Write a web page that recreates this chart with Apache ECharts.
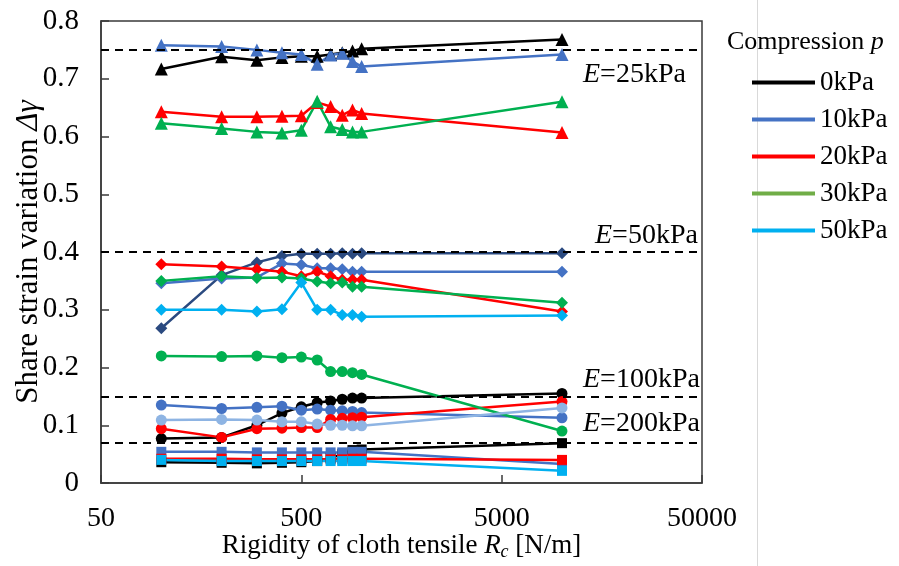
<!DOCTYPE html>
<html><head><meta charset="utf-8">
<script src="https://cdn.jsdelivr.net/npm/echarts@6/dist/echarts.min.js"></script>
<style>html,body{margin:0;padding:0;background:#fff}#c{width:899px;height:566px}</style>
</head><body><div id="c"></div>
<script>
// ---- data ----
const rigidity = [100, 200, 300, 400, 500, 600, 700, 800, 900, 1000, 10000];
const xTickLabels = [50, 500, 5000, 50000];
const refLines = [0.752, 0.4, 0.1495, 0.069];
const refLabels = ['25kPa', '50kPa', '100kPa', '200kPa'];
const legendNames = ['0kPa', '10kPa', '20kPa', '30kPa', '50kPa'];

// E = 25 kPa (triangles)
const e25_p0  = [0.717, 0.738, 0.732, 0.737, 0.739, 0.739, 0.742, 0.745, 0.748, 0.752, 0.768];
const e25_p10 = [0.758, 0.756, 0.750, 0.745, 0.742, 0.725, 0.741, 0.744, 0.730, 0.721, 0.742];
const e25_p20 = [0.643, 0.634, 0.634, 0.635, 0.636, 0.659, 0.652, 0.637, 0.646, 0.640, 0.607];
const e25_p30 = [0.623, 0.614, 0.608, 0.606, 0.611, 0.661, 0.617, 0.612, 0.608, 0.608, 0.660];
// E = 50 kPa (diamonds)
const e50_p0  = [0.268, 0.360, 0.382, 0.393, 0.397, 0.397, 0.397, 0.398, 0.397, 0.398, 0.398];
const e50_p10 = [0.346, 0.354, 0.356, 0.380, 0.378, 0.372, 0.372, 0.370, 0.366, 0.366, 0.366];
const e50_p20 = [0.379, 0.375, 0.370, 0.366, 0.358, 0.366, 0.358, 0.352, 0.352, 0.352, 0.297];
const e50_p30 = [0.350, 0.358, 0.355, 0.356, 0.354, 0.349, 0.346, 0.347, 0.340, 0.340, 0.312];
const e50_p50 = [0.300, 0.300, 0.297, 0.301, 0.347, 0.300, 0.300, 0.291, 0.291, 0.288, 0.290];
// E = 100 kPa (circles)
const e100_p0  = [0.077, 0.079, 0.100, 0.121, 0.132, 0.139, 0.142, 0.145, 0.147, 0.147, 0.155];
const e100_p10 = [0.135, 0.129, 0.131, 0.133, 0.126, 0.128, 0.126, 0.125, 0.124, 0.122, 0.113];
const e100_p20 = [0.094, 0.079, 0.094, 0.095, 0.096, 0.096, 0.110, 0.112, 0.113, 0.114, 0.141];
const e100_p30 = [0.220, 0.219, 0.220, 0.217, 0.218, 0.213, 0.193, 0.193, 0.191, 0.188, 0.090];
const e100_p50 = [0.109, 0.110, 0.109, 0.106, 0.106, 0.102, 0.100, 0.100, 0.099, 0.099, 0.130];
// E = 200 kPa (squares)
const e200_p0  = [0.036, 0.035, 0.034, 0.035, 0.036, 0.038, 0.043, 0.050, 0.057, 0.058, 0.069];
const e200_p10 = [0.054, 0.054, 0.053, 0.053, 0.053, 0.053, 0.053, 0.053, 0.054, 0.054, 0.033];
const e200_p20 = [0.042, 0.042, 0.041, 0.041, 0.041, 0.041, 0.041, 0.041, 0.042, 0.042, 0.040];
const e200_p50 = [0.040, 0.038, 0.038, 0.038, 0.038, 0.038, 0.038, 0.038, 0.038, 0.038, 0.021];

// ---- styles ----
const C = {black:'#000000', blue:'#4472C4', red:'#FF0000', green:'#00B050', cyan:'#00B0F0',
           navy:'#2B4A80', pale:'#8EB4E3', legGreen:'#70AD47'};
const FONT = "'Liberation Serif', 'Times New Roman', 'DejaVu Serif', serif";

function mk(name, vals, color, symbol, size) {
  return {
    name: name, type: 'line', data: rigidity.map((x, i) => [x, vals[i]]),
    symbol: symbol, symbolSize: size, color: color,
    lineStyle: {width: 2.5, color: color}, itemStyle: {color: color},
    z: 3, silent: true, animation: false
  };
}
const series = [
  mk('e25_0', e25_p0, C.black, 'triangle', 13),
  mk('e25_10', e25_p10, C.blue, 'triangle', 13),
  mk('e25_20', e25_p20, C.red, 'triangle', 13),
  mk('e25_30', e25_p30, C.green, 'triangle', 13),
  mk('e50_0', e50_p0, C.navy, 'diamond', 12),
  mk('e50_10', e50_p10, C.blue, 'diamond', 12),
  mk('e50_20', e50_p20, C.red, 'diamond', 12),
  mk('e50_30', e50_p30, C.green, 'diamond', 12),
  mk('e50_50', e50_p50, C.cyan, 'diamond', 12),
  mk('e100_0', e100_p0, C.black, 'circle', 11),
  mk('e100_10', e100_p10, C.blue, 'circle', 11),
  mk('e100_20', e100_p20, C.red, 'circle', 11),
  mk('e100_30', e100_p30, C.green, 'circle', 11),
  mk('e100_50', e100_p50, C.pale, 'circle', 11),
  mk('e200_0', e200_p0, C.black, 'rect', 10),
  mk('e200_10', e200_p10, C.blue, 'rect', 10),
  mk('e200_20', e200_p20, C.red, 'rect', 10),
  mk('e200_50', e200_p50, C.cyan, 'rect', 10)
];
// reference dashed lines
series.push({
  name: 'ref', type: 'line', data: [], silent: true,
  markLine: {
    symbol: 'none', silent: true, animation: false, label: {show: false},
    lineStyle: {color: '#000', type: [8, 6], width: 2},
    data: refLines.map(v => ({yAxis: v}))
  }
});
// legend entries
const legColors = [C.black, C.blue, C.red, C.legGreen, C.cyan];
legendNames.forEach((n, i) => series.push({name: n, type: 'line', data: [], color: legColors[i], lineStyle:{color: legColors[i]}, itemStyle:{color: legColors[i]}}));

// annotation texts
const annPos = [[583, 75], [595, 236], [583, 380], [583, 424]];
const txt = (s, it) => ({fontFamily: FONT, fontSize: s, fill: '#000', fontStyle: it ? 'italic' : 'normal'});
const graphics = [
  {type: 'line', shape: {x1: 757.5, y1: 0, x2: 757.5, y2: 566}, style: {stroke: '#d9d9d9', lineWidth: 1}, z: 0},
  {type: 'text', x: 727, y: 42, style: {text: '{n|Compression }{i|p}', verticalAlign: 'middle', rich: {n: txt(26, false), i: txt(26, true)}}, z: 10}
];
refLabels.forEach((t, i) => graphics.push({
  type: 'text', x: annPos[i][0], y: annPos[i][1],
  style: {text: '{i|E}{n|=' + t + '}', verticalAlign: 'middle', rich: {n: txt(28, false), i: txt(28, true)}},
  z: 10
}));

const chart = echarts.init(document.getElementById('c'), null, {renderer: 'canvas'});
chart.setOption({
  animation: false,
  backgroundColor: '#fff',
  grid: {left: 101, right: 197, top: 21, bottom: 83, containLabel: false, outerBoundsMode: 'none',
         show: true, borderColor: '#3a3a3a', borderWidth: 1.5},
  xAxis: {
    type: 'log', logBase: 10, min: 50, max: 50000,
    axisLine: {show: true, lineStyle: {color: '#3a3a3a', width: 1.5}},
    axisTick: {show: true, inside: true, length: 8, lineStyle: {color: '#3a3a3a', width: 1.5}, customValues: xTickLabels},
    axisLabel: {customValues: xTickLabels, fontFamily: FONT, fontSize: 28, color: '#000', margin: 22, showMinLabel: true, showMaxLabel: true,
      formatter: v => String(Math.round(v))},
    splitLine: {show: false}, minorTick: {show: false},
    name: '{n|Rigidity of cloth tensile }{i|R}{s|c}{n| [N/m]}', nameLocation: 'middle', nameGap: 48, nameMoveOverlap: false,
    nameTextStyle: {rich: {
      n: {fontFamily: FONT, fontSize: 27, color: '#000', lineHeight: 30},
      i: {fontFamily: FONT, fontSize: 27, color: '#000', fontStyle: 'italic', lineHeight: 30},
      s: {fontFamily: FONT, fontSize: 18, color: '#000', fontStyle: 'italic', verticalAlign: 'bottom', lineHeight: 30, padding: [10, 0, 0, 0]}
    }}
  },
  yAxis: {
    type: 'value', min: 0, max: 0.8, interval: 0.1,
    axisLine: {show: true, lineStyle: {color: '#3a3a3a', width: 1.5}},
    axisTick: {show: true, inside: true, length: 8, lineStyle: {color: '#3a3a3a', width: 1.5}},
    axisLabel: {fontFamily: FONT, fontSize: 29, color: '#000', margin: 22},
    splitLine: {show: false},
    name: '{n|Share strain variation }{i|Δγ}', nameLocation: 'middle', nameGap: 57, nameMoveOverlap: false,
    nameTextStyle: {rich: {
      n: {fontFamily: FONT, fontSize: 31, color: '#000'},
      i: {fontFamily: FONT, fontSize: 31, color: '#000', fontStyle: 'italic'}
    }}
  },
  legend: {
    data: legendNames, orient: 'vertical', left: 747, top: 64, itemWidth: 63, itemHeight: 4, itemGap: 10,
    icon: 'rect', selectedMode: false,
    textStyle: {fontFamily: FONT, fontSize: 27, color: '#000', lineHeight: 27}
  },
  graphic: graphics,
  series: series
});
</script>
</body></html>
